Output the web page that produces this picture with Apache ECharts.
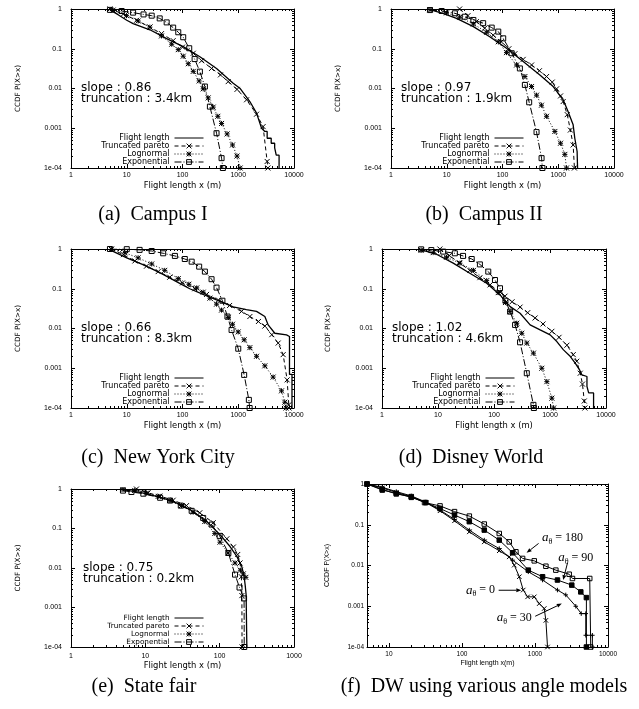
<!DOCTYPE html>
<html>
<head>
<meta charset="utf-8">
<title>Flight length CCDF</title>
<script src="https://cdn.jsdelivr.net/npm/echarts@6.0.0/dist/echarts.min.js"></script>
<style>
  html, body { margin: 0; padding: 0; background: #fff; }
  #main { width: 639px; height: 709px; }
</style>
</head>
<body>
<div id="main"></div>
<script>
// ---------- values ----------
var seriesNames = ['Flight length', 'Truncated pareto', 'Lognormal', 'Exponential'];
var angleNames = ['a180', 'a90', 'a0', 'a30'];
var xTickLabels = ['1', '10', '100', '1000', '10000'];      // 10^0 .. 10^4
var yTickLabels = ['1e-04', '0.001', '0.01', '0.1', '1'];   // 10^-4 .. 10^0

// (a) Campus I
var campus1Flight = [[5,0.95],[7,0.72],[10,0.52],[13,0.43],[26,0.3],[52,0.18],[103,0.113],[205,0.063],[408,0.032],[811,0.0136],[1069,0.0102],[1615,0.0047],[2128,0.0024],[2620,0.001],[3000,0.00083],[3300,0.00083],[3300,0.00056],[3900,0.00056],[3900,0.00042],[4500,0.00042],[4500,0.00032],[4800,0.00032],[4800,0.00021],[5400,0.00021],[5400,0.0001]];
var campus1Pareto = [[5,1],[8.7,0.75],[15,0.52],[26,0.35],[42,0.24],[68,0.16],[100,0.11],[156,0.077],[220,0.05],[332,0.032],[480,0.022],[660,0.0149],[950,0.0095],[1410,0.0052],[2128,0.00226],[2790,0.0011],[3300,0.000146],[3400,0.0001]];
var campus1Lognormal = [[5.7,0.94],[9.9,0.68],[16,0.5],[26,0.35],[42,0.21],[64,0.13],[84,0.095],[103,0.065],[127,0.042],[156,0.027],[199,0.0155],[235,0.0098],[289,0.0058],[355,0.0034],[430,0.002],[502,0.00132],[632,0.00072],[790,0.00038],[950,0.0002],[1080,0.0001]];
var campus1Exponential = [[5,0.95],[8.1,0.89],[13,0.81],[20,0.73],[28,0.68],[39,0.58],[52,0.46],[68,0.34],[84,0.26],[103,0.195],[132,0.103],[165,0.055],[205,0.0266],[252,0.0112],[310,0.0035],[408,0.00075],[502,0.000177],[530,0.0001]];

// (b) Campus II
var campus2Flight = [[5,0.96],[8.5,0.78],[15,0.58],[30,0.36],[59,0.2],[118,0.103],[235,0.0475],[468,0.022],[811,0.0112],[1225,0.0052],[1505,0.0026],[1850,0.00122],[1980,0.00056],[2180,0.00026],[2220,0.0001]];
var campus2Pareto = [[17,1],[24,0.68],[34,0.48],[48,0.33],[68,0.22],[95,0.15],[130,0.1],[167,0.075],[235,0.054],[332,0.039],[460,0.028],[617,0.02],[780,0.0145],[933,0.0098],[1100,0.0065],[1225,0.0047],[1450,0.0022],[1650,0.0009],[1850,0.00038],[1950,0.0001]];
var campus2Lognormal = [[5,0.96],[9.9,0.8],[17,0.62],[30,0.42],[52,0.26],[84,0.15],[118,0.08],[179,0.039],[252,0.02],[332,0.0112],[408,0.0068],[500,0.0038],[617,0.002],[869,0.00083],[1100,0.00042],[1313,0.00022],[1406,0.0001]];
var campus2Exponential = [[5,0.94],[8.1,0.89],[14,0.78],[21,0.64],[30,0.53],[45,0.44],[64,0.34],[84,0.27],[103,0.183],[146,0.077],[205,0.032],[252,0.0123],[301,0.0045],[408,0.0008],[502,0.000177],[520,0.0001]];

// (c) New York City
var nycFlight = [[5,0.95],[10,0.6],[20,0.4],[40,0.25],[100,0.125],[135,0.1],[252,0.069],[500,0.047],[810,0.035],[1400,0.03],[2128,0.027],[3000,0.02],[3440,0.0123],[4530,0.0076],[7330,0.0069],[8300,0.0063],[8300,0.0007],[9200,0.0007],[9200,0.0001]];
var nycPareto = [[5.3,1],[8.7,0.72],[14,0.5],[22.6,0.37],[36.6,0.27],[59,0.195],[100,0.14],[166,0.1],[270,0.072],[440,0.052],[700,0.038],[1150,0.027],[1615,0.02],[2300,0.015],[3000,0.0115],[4000,0.007],[5200,0.0043],[6390,0.0022],[7530,0.00051],[8070,0.00012],[8150,0.0001]];
var nycLognormal = [[5.3,0.98],[9.3,0.8],[16,0.6],[28,0.42],[48,0.29],[84,0.18],[130,0.13],[180,0.105],[235,0.082],[310,0.058],[408,0.041],[501,0.029],[660,0.019],[790,0.0128],[998,0.0082],[1277,0.0052],[1615,0.0033],[2128,0.002],[3000,0.00115],[4220,0.0006],[5970,0.00027],[6840,0.00014],[7200,0.0001]];
var nycExponential = [[5,1],[10,0.99],[17,0.95],[28,0.89],[45,0.78],[73,0.67],[110,0.56],[146,0.48],[199,0.36],[252,0.27],[332,0.174],[408,0.107],[520,0.05],[640,0.02],[759,0.0092],[1000,0.0031],[1277,0.00068],[1550,0.00016],[1600,0.0001]];

// (d) Disney World
var dwFlight = [[5,0.95],[9.4,0.74],[18.7,0.44],[37,0.245],[74,0.137],[128,0.07],[194,0.0355],[292,0.0242],[442,0.0123],[667,0.0092],[1006,0.0069],[1325,0.0047],[1740,0.0029],[2290,0.002],[2820,0.00135],[3370,0.00091],[3720,0.00068],[4570,0.00062],[4570,0.00035],[4900,0.00024],[6000,0.00024],[6000,0.0001]];
var dwPareto = [[10.8,1],[16,0.68],[24,0.45],[37,0.29],[56,0.19],[85,0.125],[128,0.083],[157,0.065],[210,0.047],[292,0.0345],[400,0.025],[542,0.0184],[750,0.013],[1080,0.0085],[1450,0.006],[2005,0.0038],[2600,0.0022],[3000,0.0015],[3470,0.00075],[3800,0.0004],[4090,0.00015],[4200,0.0001]];
var dwLognormal = [[5,0.94],[8.2,0.81],[14.2,0.62],[24.6,0.44],[43,0.29],[74,0.16],[119,0.08],[160,0.045],[194,0.0266],[255,0.0136],[313,0.0076],[385,0.0043],[506,0.0024],[714,0.001],[879,0.00046],[1080,0.000177],[1160,0.0001]];
var dwExponential = [[5,0.98],[7.6,0.94],[12.4,0.86],[20,0.78],[28,0.67],[40,0.56],[56,0.41],[79,0.27],[104,0.166],[128,0.103],[160,0.05],[194,0.0266],[238,0.0123],[292,0.0045],[385,0.00075],[506,0.00012],[515,0.0001]];

// (e) State fair
var fairFlight = [[5,0.96],[6.9,0.87],[8.5,0.82],[14.2,0.65],[23.8,0.485],[40,0.3],[67,0.151],[101,0.07],[138,0.035],[170,0.0197],[198,0.011],[213,0.0062],[220,0.0038],[227,0.0021],[232,0.0021],[232,0.0001]];
var fairPareto = [[7.6,1],[10.9,0.8],[15.7,0.66],[23.7,0.52],[35.8,0.38],[54,0.25],[82,0.14],[125,0.055],[153,0.034],[175,0.022],[188,0.0134],[196,0.006],[199,0.002],[200,0.0001]];
var fairLognormal = [[5,0.97],[7.2,0.92],[10.4,0.79],[14.9,0.65],[21.4,0.51],[30.6,0.38],[44,0.26],[63,0.15],[86,0.075],[101,0.045],[130,0.024],[161,0.0134],[190,0.0088],[208,0.0071],[225,0.0058]];
var fairExponential = [[5,0.91],[6.5,0.84],[9.4,0.76],[15.8,0.6],[21.5,0.51],[30,0.38],[42,0.28],[60,0.185],[78,0.126],[100,0.065],[131,0.024],[161,0.0068],[185,0.0032],[213,0.0017],[214,0.0001]];

// (f) DW with angle models
var theta180 = [[5,1],[8.1,0.74],[12.6,0.57],[20.2,0.49],[30.7,0.35],[50,0.29],[79,0.21],[126,0.163],[202,0.104],[324,0.061],[444,0.038],[548,0.0217],[676,0.0149],[977,0.013],[1410,0.0096],[1930,0.0077],[2940,0.0061],[3260,0.0048],[5620,0.0048],[5800,0.0001]];
var theta90 = [[5,1],[8.1,0.71],[12.6,0.59],[20.2,0.47],[32,0.35],[50,0.25],[79,0.173],[126,0.119],[202,0.074],[324,0.042],[494,0.0205],[810,0.0077],[1270,0.0053],[2030,0.0044],[3190,0.0033],[4240,0.00225],[5060,0.00163],[5060,0.0001]];
var theta0 = [[5,1],[8.1,0.8],[12.6,0.62],[20.2,0.49],[32,0.35],[50,0.22],[79,0.125],[126,0.067],[202,0.038],[324,0.023],[444,0.0163],[520,0.0102],[610,0.0053],[690,0.0025],[792,0.0017],[977,0.0017],[1143,0.00116],[1338,0.00088],[1410,0.00045],[1485,0.0001]];
var theta30 = [[5,1],[8.1,0.83],[12.6,0.65],[20.2,0.51],[32,0.36],[50,0.23],[79,0.135],[126,0.074],[202,0.042],[324,0.026],[494,0.0135],[810,0.007],[1270,0.0044],[2030,0.0025],[2640,0.0019],[3620,0.001],[4300,0.00066],[4960,0.00066],[4960,0.000194],[6110,0.000194],[6110,0.0001]];

// annotations of (f), in data units
var angleLabels = ['180', '90', '0', '30'];
var angleLabelAt = [[2380,0.0489],[3620,0.0157],[179,0.00247],[520,0.000526]];
var angleArrowFrom = [[1120,0.0348],[2790,0.0116],[318,0.00247],[1007,0.000568]];
var angleArrowTo = [[767,0.0205],[2430,0.0044],[649,0.00247],[2330,0.00116]];

// ---------- styles ----------
var CROSS = 'path://M0,0L10,10M0,10L10,0';
var STAR = 'path://M0,0L10,10M0,10L10,0M5,0L5,10M0,5L10,5';
var PLUS = 'path://M5,0L5,10M0,5L10,5';
var CLEAR = 'rgba(0,0,0,0)';

var fitStyles = [
  { symbol: 'none', dash: 'solid', width: 1.3, fill: CLEAR, stroke: CLEAR },
  { symbol: CROSS, dash: [4, 3], width: 1, fill: CLEAR, stroke: '#000' },
  { symbol: STAR, dash: [1, 2], width: 1, fill: CLEAR, stroke: '#000' },
  { symbol: 'rect', dash: [7, 2, 1, 2], width: 1, fill: CLEAR, stroke: '#000' }
];
var angleStyles = [
  { symbol: 'rect', dash: 'solid', width: 1, fill: CLEAR, stroke: '#000' },
  { symbol: 'rect', dash: 'solid', width: 1, fill: '#000', stroke: '#000' },
  { symbol: CROSS, dash: 'solid', width: 1, fill: CLEAR, stroke: '#000' },
  { symbol: PLUS, dash: 'solid', width: 1, fill: CLEAR, stroke: '#000' }
];

var panels = [
  { left: 71, top: 9, width: 223, height: 159, xMin: 1, xMax: 10000,
    curves: [campus1Flight, campus1Pareto, campus1Lognormal, campus1Exponential], names: seriesNames, styles: fitStyles,
    notes: ['slope : 0.86', 'truncation : 3.4km'], noteX: 81, noteY: 88,
    legend: { right: 435, top: 134, font: 8 }, caption: '(a)\u2002Campus I', capX: 153, capY: 215 },
  { left: 391, top: 9, width: 223, height: 159, xMin: 1, xMax: 10000,
    curves: [campus2Flight, campus2Pareto, campus2Lognormal, campus2Exponential], names: seriesNames, styles: fitStyles,
    notes: ['slope : 0.97', 'truncation : 1.9km'], noteX: 401, noteY: 88,
    legend: { right: 115, top: 134, font: 8 }, caption: '(b)\u2002Campus II', capX: 484, capY: 215 },
  { left: 71, top: 249, width: 223, height: 159, xMin: 1, xMax: 10000,
    curves: [nycFlight, nycPareto, nycLognormal, nycExponential], names: seriesNames, styles: fitStyles,
    notes: ['slope : 0.66', 'truncation : 8.3km'], noteX: 81, noteY: 328,
    legend: { right: 435, top: 374, font: 8 }, caption: '(c)\u2002New York City', capX: 158, capY: 458 },
  { left: 382, top: 249, width: 224, height: 159, xMin: 1, xMax: 10000,
    curves: [dwFlight, dwPareto, dwLognormal, dwExponential], names: seriesNames, styles: fitStyles,
    notes: ['slope : 1.02', 'truncation : 4.6km'], noteX: 392, noteY: 328, yNameGap: 50,
    legend: { right: 124, top: 374, font: 8 }, caption: '(d)\u2002Disney World', capX: 471, capY: 458 },
  { left: 71, top: 489, width: 223, height: 158, xMin: 1, xMax: 1000,
    curves: [fairFlight, fairPareto, fairLognormal, fairExponential], names: seriesNames, styles: fitStyles,
    notes: ['slope : 0.75', 'truncation : 0.2km'], noteX: 83, noteY: 568, xLabelMargin: 6, xNameGap: 15,
    legend: { right: 435, top: 614, font: 7.3 }, caption: '(e)\u2002State fair', capX: 144, capY: 687 },
  { left: 367, top: 484, width: 241, height: 163, xMin: 5, xMax: 10000,
    curves: [theta180, theta90, theta0, theta30], names: angleNames, styles: angleStyles, small: true,
    notes: [], legend: null, caption: '(f)\u2002DW using various angle models', capX: 484, capY: 687 }
];

// ---------- helpers ----------
function decade(v) { return Math.round(Math.log(v) / Math.LN10); }
function onDecade(v) { var l = Math.log(v) / Math.LN10; return Math.abs(l - Math.round(l)) < 1e-6; }
function xLabel(v) { return onDecade(v) ? xTickLabels[decade(v)] : ''; }
function yLabel(v) { return onDecade(v) ? yTickLabels[decade(v) + 4] : ''; }

function minorValues(lo, hi) {
  var out = [];
  for (var e = Math.floor(Math.log(lo) / Math.LN10 + 1e-9); Math.pow(10, e) < hi; e++) {
    for (var m = 2; m <= 9; m++) {
      var v = m * Math.pow(10, e);
      if (v > lo * 1.0001 && v < hi * 0.9999) out.push(v);
    }
  }
  return out;
}

function tickLine(x1, y1, x2, y2) {
  return { type: 'line', shape: { x1: x1, y1: y1, x2: x2, y2: y2 }, style: { stroke: '#000', lineWidth: 1 } };
}

function textEl(x, y, text, font, align) {
  return { type: 'text', x: x, y: y, silent: true,
    style: { text: text, font: font, fill: '#000', align: align || 'left', verticalAlign: 'middle' } };
}

function makeAxis(dir, i, p, main) {
  var a = {
    type: 'log', logBase: 10, gridIndex: i,
    min: dir === 'x' ? p.xMin : 0.0001, max: dir === 'x' ? p.xMax : 1,
    splitLine: { show: false },
    axisLine: { show: true, onZero: false, lineStyle: { color: '#000', width: 1 } },
    axisTick: { show: true, inside: true, length: 4, lineStyle: { color: '#000', width: 1 } },
    axisLabel: { show: false }
  };
  if (dir === 'x') a.position = main ? 'bottom' : 'top';
  else a.position = main ? 'left' : 'right';
  if (main) {
    a.axisLabel = {
      show: true, color: '#000', fontFamily: 'Liberation Sans',
      fontSize: p.small ? 6.5 : 7,
      formatter: dir === 'x' ? xLabel : yLabel,
      margin: dir === 'x' ? (p.xLabelMargin || 4) : (p.small ? 3 : 9)
    };
    a.nameLocation = 'middle';
    if (dir === 'x') {
      a.name = p.small ? 'Flight length x(m)' : 'Flight length x (m)';
      a.nameGap = p.xNameGap || (p.small ? 13 : 14);
      a.nameTextStyle = { color: '#000', fontSize: p.small ? 7 : 8.4, fontFamily: p.small ? 'Liberation Sans' : 'DejaVu Sans' };
    } else {
      a.name = 'CCDF P(X>x)';
      a.nameGap = p.small ? 36 : (p.yNameGap || 49);
      a.nameTextStyle = { color: '#000', fontSize: p.small ? 7 : 7.2, fontFamily: p.small ? 'Liberation Sans' : 'DejaVu Sans' };
    }
  }
  return a;
}

// ---------- build option ----------
var grid = [], xAxis = [], yAxis = [], series = [], legend = [], graphic = [];
var fSeries = -1;

panels.forEach(function (p, i) {
  grid.push({ left: p.left, top: p.top, width: p.width, height: p.height, outerBoundsMode: 'none' });
  xAxis.push(makeAxis('x', i, p, true), makeAxis('x', i, p, false));
  yAxis.push(makeAxis('y', i, p, true), makeAxis('y', i, p, false));

  p.curves.forEach(function (curve, k) {
    var st = p.styles[k];
    if (p.small && k === 0) fSeries = series.length;
    series.push({
      name: p.names[k], type: 'line', xAxisIndex: 2 * i, yAxisIndex: 2 * i,
      data: curve, silent: true, animation: false,
      symbol: st.symbol, showSymbol: st.symbol !== 'none', symbolSize: p.small ? 4.5 : 5,
      lineStyle: { color: '#000', width: st.width, type: st.dash },
      itemStyle: { color: st.fill, borderColor: st.stroke, borderWidth: 1 },
      z: 3
    });
  });

  // gnuplot style minor ticks on all four sides
  var xm = minorValues(p.xMin, p.xMax), ym = minorValues(0.0001, 1);
  series.push({
    type: 'custom', xAxisIndex: 2 * i, yAxisIndex: 2 * i, silent: true, animation: false, z: 5,
    data: [[p.xMin, 0.0001]],
    renderItem: function (params, api) {
      var lo = api.coord([p.xMin, 0.0001]), hi = api.coord([p.xMax, 1]);
      var kids = [];
      xm.forEach(function (v) {
        var x = Math.round(api.coord([v, 0.0001])[0]) + 0.5;
        kids.push(tickLine(x, lo[1], x, lo[1] - 2), tickLine(x, hi[1], x, hi[1] + 2));
      });
      ym.forEach(function (v) {
        var y = Math.round(api.coord([p.xMin, v])[1]) + 0.5;
        kids.push(tickLine(lo[0], y, lo[0] + 2, y), tickLine(hi[0], y, hi[0] - 2, y));
      });
      return { type: 'group', children: kids };
    }
  });

  if (p.legend) {
    legend.push({
      data: seriesNames, orient: 'vertical', align: 'right',
      right: p.legend.right, top: p.legend.top, padding: 0,
      itemWidth: 29, itemHeight: 6, itemGap: 0, selectedMode: false,
      textStyle: { fontFamily: 'DejaVu Sans', fontSize: p.legend.font, color: '#000', lineHeight: 8 },
      lineStyle: { width: 1 }, itemStyle: { borderWidth: 1 }
    });
  }

  p.notes.forEach(function (t, n) {
    graphic.push(textEl(p.noteX, p.noteY + n * 11, t, '12px "DejaVu Sans"', 'left'));
  });
  graphic.push(textEl(p.capX, p.capY, p.caption, '20px "Liberation Serif"', 'center'));
});

var option = {
  backgroundColor: '#fff',
  animation: false,
  grid: grid, xAxis: xAxis, yAxis: yAxis,
  legend: legend, series: series, graphic: graphic
};

var chart = echarts.init(document.getElementById('main'));
chart.setOption(option);

// arrows and labels of panel (f), placed through the panel's own axes
function arrowEls(p0, p1) {
  var dx = p1[0] - p0[0], dy = p1[1] - p0[1];
  var len = Math.sqrt(dx * dx + dy * dy), ux = dx / len, uy = dy / len;
  var hl = 5, hw = 2;
  var bx = p1[0] - ux * hl, by = p1[1] - uy * hl;
  return [
    { type: 'line', silent: true, shape: { x1: p0[0], y1: p0[1], x2: bx, y2: by }, style: { stroke: '#000', lineWidth: 1 } },
    { type: 'polygon', silent: true, shape: { points: [[p1[0], p1[1]], [bx - uy * hw, by + ux * hw], [bx + uy * hw, by - ux * hw]] }, style: { fill: '#000' } }
  ];
}

var extra = [];
angleLabels.forEach(function (lab, k) {
  var at = chart.convertToPixel({ seriesIndex: fSeries }, angleLabelAt[k]);
  var from = chart.convertToPixel({ seriesIndex: fSeries }, angleArrowFrom[k]);
  var to = chart.convertToPixel({ seriesIndex: fSeries }, angleArrowTo[k]);
  extra = extra.concat(arrowEls(from, to));
  extra.push({
    type: 'text', x: at[0], y: at[1], silent: true,
    style: {
      text: '{i|a}{s|\u03b8}{n| = ' + lab + '}', align: 'center', verticalAlign: 'middle',
      rich: {
        i: { fontFamily: 'Liberation Serif', fontStyle: 'italic', fontSize: 13, lineHeight: 16, verticalAlign: 'middle', fill: '#000' },
        s: { fontFamily: 'Liberation Serif', fontSize: 8, lineHeight: 8, verticalAlign: 'bottom', fill: '#000' },
        n: { fontFamily: 'Liberation Serif', fontSize: 12, lineHeight: 16, verticalAlign: 'middle', fill: '#000' }
      }
    }
  });
});
chart.setOption({ graphic: graphic.concat(extra) });
</script>
</body>
</html>
